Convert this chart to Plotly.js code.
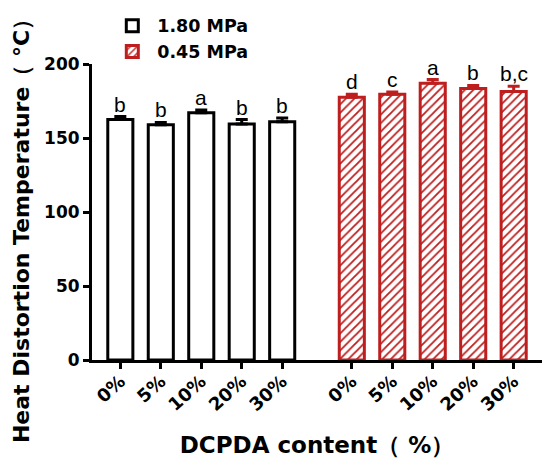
<!DOCTYPE html>
<html>
<head>
<meta charset="utf-8">
<script src="https://cdn.plot.ly/plotly-3.0.1.min.js"></script>
<style>html,body{margin:0;padding:0;background:#fff;}#chart{width:550px;height:463px;}</style>
</head>
<body>
<div id="chart"></div>
<script>
// ---- data ----
const categories = ['0%', '5%', '10%', '20%', '30%'];
const hdt180 = [162.5, 159, 167, 159.5, 161];      // 1.80 MPa
const sd180 = [2, 1.5, 2, 3, 2.5];
const letters180 = ['b', 'b', 'a', 'b', 'b'];
const hdt045 = [177.5, 179.5, 187, 183.5, 181.5];  // 0.45 MPa
const sd045 = [2, 1.5, 2.5, 2, 3.5];
const letters045 = ['d', 'c', 'a', 'b', 'b,c'];
const yTicks = [0, 50, 100, 150, 200];
const seriesNames = ['1.80 MPa', '0.45 MPa'];
const xTitle = 'DCPDA content（ %）';
const yTitle = 'Heat Distortion Temperature（ °C）';

// ---- layout helpers ----
const GROUP_OFFSET = 5.72;
const RED = '#BE1E1E';
function bold(size) { return {family: 'DejaVu Sans', size: size, color: '#000', weight: 'bold'}; }
const xs1 = categories.map((c, i) => i);
const xs2 = categories.map((c, i) => i + GROUP_OFFSET);
const zeros = categories.map(() => 0);

const traces = [
  {
    type: 'bar', name: seriesNames[0], x: xs1, y: hdt180, width: 0.62,
    marker: {color: '#fff', line: {color: '#000', width: 3}},
    error_y: {type: 'data', symmetric: false, array: sd180, arrayminus: zeros,
              color: '#000', thickness: 3, width: 6},
    hoverinfo: 'y'
  },
  {
    type: 'bar', name: seriesNames[1], x: xs2, y: hdt045, width: 0.62,
    marker: {color: '#fff', line: {color: RED, width: 3},
             pattern: {shape: '/', fgcolor: RED, bgcolor: '#fff', size: 6, solidity: 0.3}},
    error_y: {type: 'data', symmetric: false, array: sd045, arrayminus: zeros,
              color: RED, thickness: 3, width: 6},
    hoverinfo: 'y'
  }
];

const annotations = [];
xs1.forEach((x, i) => annotations.push({x: x, y: hdt180[i] + sd180[i], text: letters180[i]}));
xs2.forEach((x, i) => annotations.push({x: x, y: hdt045[i] + sd045[i], text: letters045[i]}));
annotations.forEach(a => Object.assign(a, {
  xref: 'x', yref: 'y', showarrow: false, yanchor: 'bottom', yshift: -1,
  font: {family: 'Liberation Sans', size: 21, color: '#000'}
}));
// y-axis title as a rotated annotation so it can sit a little lower, as in the reference
annotations.push({
  xref: 'paper', yref: 'paper', x: -0.156, y: 0.455, xanchor: 'center', yanchor: 'middle',
  textangle: -90, showarrow: false, text: yTitle, font: bold(22)
});

const layout = {
  width: 550, height: 463,
  margin: {l: 92, r: 8, t: 61, b: 103},
  paper_bgcolor: '#fff', plot_bgcolor: '#fff',
  showlegend: true,
  legend: {x: 0.034, y: 1.19, xanchor: 'left', yanchor: 'top', font: bold(17.5),
           bgcolor: 'rgba(0,0,0,0)', tracegroupgap: 6, itemwidth: 40},
  bargap: 0,
  xaxis: {
    range: [-0.7, 10.42], tickmode: 'array',
    tickvals: xs1.concat(xs2), ticktext: categories.concat(categories),
    tickangle: -42, tickfont: bold(18), ticklabelstandoff: -5,
    showline: true, linecolor: '#000', linewidth: 3,
    ticks: 'outside', ticklen: 6, tickwidth: 3, tickcolor: '#000',
    showgrid: false, zeroline: false,
    title: {text: xTitle, font: bold(23), standoff: 23}
  },
  yaxis: {
    range: [0, 200], tickmode: 'array', tickvals: yTicks,
    tickfont: bold(17),
    showline: true, linecolor: '#000', linewidth: 3,
    ticks: 'outside', ticklen: 6, tickwidth: 3, tickcolor: '#000',
    showgrid: false, zeroline: false
  },
  annotations: annotations
};

Plotly.newPlot('chart', traces, layout, {displayModeBar: false, staticPlot: true});
</script>
</body>
</html>
